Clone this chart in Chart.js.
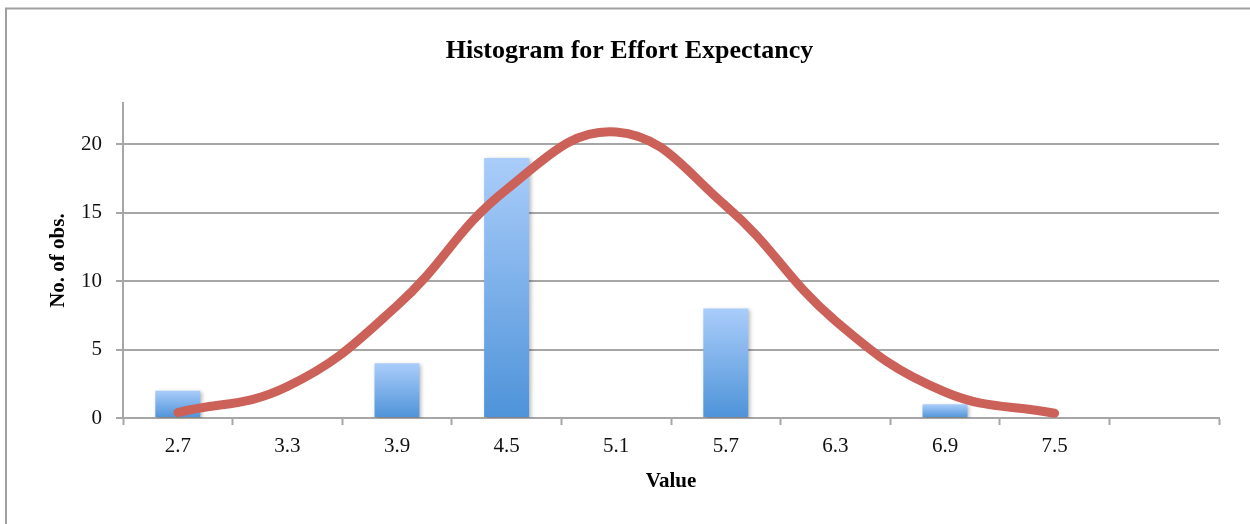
<!DOCTYPE html>
<html>
<head>
<meta charset="utf-8">
<script src="https://cdn.jsdelivr.net/npm/chart.js@4"></script>
<style>
  html, body { margin: 0; padding: 0; background: #fff; }
  #wrap { position: relative; width: 1250px; height: 524px; }
</style>
</head>
<body>
<div id="wrap"><canvas id="c" width="1250" height="524"></canvas></div>
<script>
// ---- data ----
const categories = ['2.7', '3.3', '3.9', '4.5', '5.1', '5.7', '6.3', '6.9', '7.5', ''];
const observed = [2, 0, 4, 19, 0, 8, 0, 1, 0, 0];
const normalCurve = [0.4, 2.3, 8.2, 16.7, 20.9, 15.5, 7.1, 1.9, 0.35, null];
const yTicks = [0, 5, 10, 15, 20];
const yMax = 23;

const SERIF = '"Liberation Serif", "DejaVu Serif", serif';
const GRID = '#a6a6a6';

const frame = {
  id: 'frame',
  beforeDraw(chart) {
    const ctx = chart.ctx;
    ctx.save();
    ctx.fillStyle = '#ffffff';
    ctx.fillRect(0, 0, chart.width, chart.height);
    ctx.strokeStyle = '#a0a0a0';
    ctx.lineWidth = 2;
    ctx.beginPath();
    ctx.moveTo(6, chart.height);
    ctx.lineTo(6, 8.5);
    ctx.lineTo(chart.width, 8.5);
    ctx.stroke();
    ctx.restore();
  }
};

const barShadow = {
  id: 'barShadow',
  beforeDatasetDraw(chart, args) {
    if (chart.data.datasets[args.index].type === 'bar') {
      const ctx = chart.ctx;
      ctx.save();
      ctx.shadowColor = 'rgba(0,0,0,0.28)';
      ctx.shadowBlur = 4;
      ctx.shadowOffsetX = 1.5;
      ctx.shadowOffsetY = 1.5;
    }
  },
  afterDatasetDraw(chart, args) {
    if (chart.data.datasets[args.index].type === 'bar') chart.ctx.restore();
  }
};

function barGradient(context) {
  const chart = context.chart;
  const { chartArea, scales } = chart;
  if (!chartArea || !scales.y) return '#7db0ea';
  const v = context.raw || 0;
  const yTop = scales.y.getPixelForValue(v);
  const yBot = scales.y.getPixelForValue(0);
  if (yBot - yTop < 1) return '#7db0ea';
  const g = chart.ctx.createLinearGradient(0, yTop, 0, yBot);
  g.addColorStop(0, '#aacdfa');
  g.addColorStop(1, '#4e93d9');
  return g;
}

new Chart(document.getElementById('c'), {
  data: {
    labels: categories,
    datasets: [
      {
        type: 'line',
        data: normalCurve,
        borderColor: '#cb6159',
        borderWidth: 9,
        borderCapStyle: 'round',
        borderJoinStyle: 'round',
        tension: 0.42,
        pointRadius: 0,
        fill: false,
        spanGaps: false,
        order: 0
      },
      {
        type: 'bar',
        data: observed,
        backgroundColor: barGradient,
        borderWidth: 0,
        barPercentage: 0.41,
        categoryPercentage: 1.0,
        order: 1
      }
    ]
  },
  options: {
    responsive: false,
    animation: false,
    devicePixelRatio: 1,
    layout: { padding: { left: 40, right: 31, top: 0, bottom: 0 } },
    plugins: {
      legend: { display: false },
      tooltip: { enabled: false },
      title: {
        display: true,
        text: 'Histogram for Effort Expectancy',
        color: '#000',
        font: { family: SERIF, size: 26, weight: 'bold' },
        padding: { top: 36, bottom: 36 }
      }
    },
    scales: {
      x: {
        type: 'category',
        offset: true,
        grid: {
          offset: true,
          drawOnChartArea: false,
          drawTicks: true,
          tickLength: 7,
          tickWidth: 2,
          tickColor: GRID
        },
        border: { display: true, color: GRID, width: 2 },
        ticks: {
          color: '#111',
          font: { family: SERIF, size: 21 },
          padding: 9,
          maxRotation: 0,
          autoSkip: false
        },
        title: {
          display: true,
          text: 'Value',
          color: '#000',
          font: { family: SERIF, size: 21, weight: 'bold' },
          padding: { top: 0, bottom: 30 }
        },
        afterFit(scale) { scale.height = 106; }
      },
      y: {
        type: 'linear',
        min: 0,
        max: yMax,
        afterBuildTicks(scale) { scale.ticks = yTicks.map(v => ({ value: v })); },
        grid: {
          drawOnChartArea: true,
          color: GRID,
          lineWidth: 2,
          drawTicks: true,
          tickLength: 7,
          tickColor: GRID
        },
        border: { display: true, color: GRID, width: 2 },
        ticks: {
          color: '#111',
          font: { family: SERIF, size: 21 },
          padding: 14
        },
        title: {
          display: true,
          text: 'No. of obs.',
          color: '#000',
          font: { family: SERIF, size: 21, weight: 'bold' },
          padding: { top: 6, bottom: 0 }
        },
        afterFit(scale) { scale.width = 83; }
      }
    }
  },
  plugins: [frame, barShadow]
});
</script>
</body>
</html>
